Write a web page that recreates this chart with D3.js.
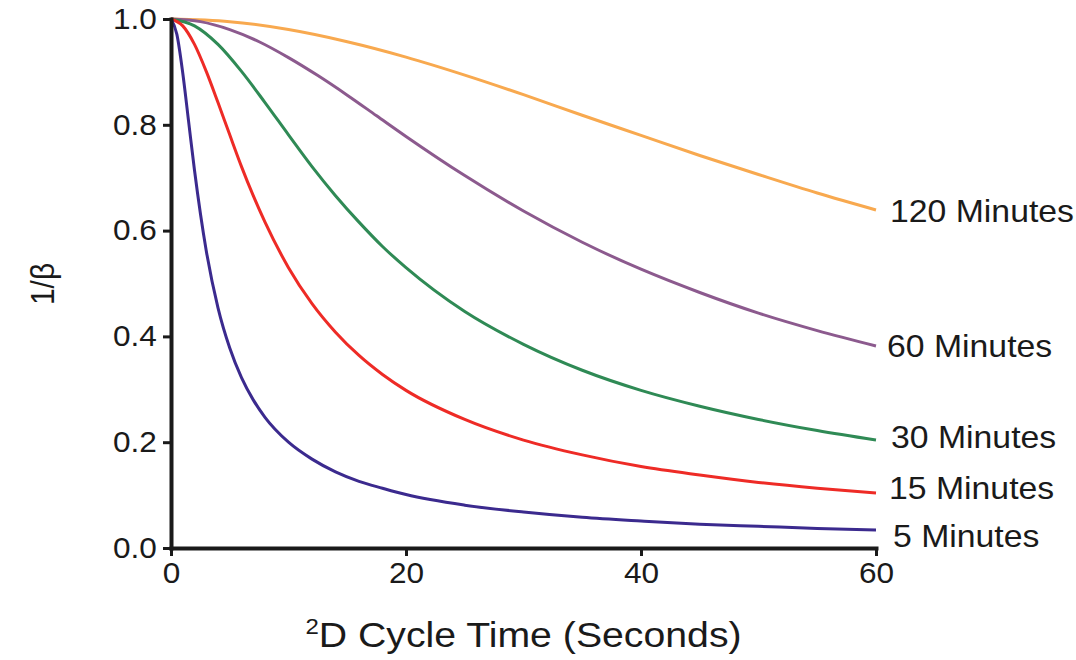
<!DOCTYPE html>
<html>
<head>
<meta charset="utf-8">
<script src="https://cdn.jsdelivr.net/npm/d3@7"></script>
<style>
  body { margin: 0; background: #fff; }
  text { font-family: "Liberation Sans", Arial, sans-serif; fill: #1a1a1a; }
</style>
</head>
<body>
<script>
// values
var names = ["120 Minutes", "60 Minutes", "30 Minutes", "15 Minutes", "5 Minutes"];
var colors = ["#f8a94f", "#8c5a8e", "#2f8a55", "#ee2b26", "#3b2a8e"];

var tOrange = [0, 5, 10, 15, 20, 25, 30, 35, 40, 45, 50, 55, 60];
var vOrange = [1, 0.995, 0.980, 0.957, 0.928, 0.894, 0.857, 0.818, 0.780, 0.742, 0.706, 0.671, 0.639];

var tPurple = [0, 2.5, 5, 7.5, 10, 12.5, 15, 17.5, 20, 25, 30, 35, 40, 45, 50, 55, 60];
var vPurple = [1, 0.995, 0.980, 0.957, 0.927, 0.893, 0.856, 0.817, 0.778, 0.704, 0.637, 0.578, 0.527, 0.483, 0.444, 0.411, 0.382];

var tGreen = [0, 2, 4, 6, 8, 10, 12, 14, 16, 18, 20, 25, 30, 35, 40, 45, 50, 55, 60];
var vGreen = [1, 0.987, 0.952, 0.901, 0.842, 0.781, 0.721, 0.666, 0.616, 0.570, 0.530, 0.447, 0.385, 0.336, 0.298, 0.268, 0.243, 0.222, 0.204];

var tRed = [0, 1, 2, 3, 4, 5, 6, 7, 8, 10, 12, 14, 16, 18, 20, 25, 30, 35, 40, 45, 50, 55, 60];
var vRed = [1, 0.987, 0.952, 0.901, 0.842, 0.781, 0.721, 0.666, 0.616, 0.530, 0.462, 0.408, 0.364, 0.328, 0.298, 0.243, 0.204, 0.176, 0.154, 0.138, 0.124, 0.113, 0.104];

var tBlue = [0, 0.5, 1, 1.5, 2, 3, 4, 5, 6, 7, 8, 10, 12, 14, 16, 18, 20, 25, 30, 35, 40, 45, 50, 55, 60];
var vBlue = [1, 0.971, 0.898, 0.806, 0.714, 0.562, 0.454, 0.378, 0.322, 0.280, 0.247, 0.200, 0.168, 0.144, 0.126, 0.113, 0.101, 0.081, 0.068, 0.058, 0.051, 0.045, 0.041, 0.037, 0.034];

var xTicks = [0, 20, 40, 60];
var yTicks = [0, 0.2, 0.4, 0.6, 0.8, 1.0];

var series = [
  { t: tOrange, v: vOrange },
  { t: tPurple, v: vPurple },
  { t: tGreen, v: vGreen },
  { t: tRed, v: vRed },
  { t: tBlue, v: vBlue }
];

var W = 1076, H = 660;
var stretch = 1.09; // the reference text is a bit wide
var x = d3.scaleLinear().domain([0, 60]).range([171, 876]);
var y = d3.scaleLinear().domain([0, 1]).range([548, 19]);

var svg = d3.select("body").append("svg")
    .attr("width", W)
    .attr("height", H);

var line = d3.line()
    .x(function(d) { return x(d[0]); })
    .y(function(d) { return y(d[1]); })
    .curve(d3.curveMonotoneX);

svg.selectAll("path.curve")
    .data(series)
    .enter()
    .append("path")
    .attr("class", "curve")
    .attr("fill", "none")
    .attr("stroke", function(d, i) { return colors[i]; })
    .attr("stroke-width", 3)
    .attr("d", function(d) { return line(d.t.map(function(t, k) { return [t, d.v[k]]; })); });

// end labels, nudged so they don't collide
var nudgeX = [14, 11, 15, 13, 17];
var nudgeY = [1, 0, -3, -5, 6];
svg.selectAll("text.lab")
    .data(series)
    .enter()
    .append("text")
    .attr("class", "lab")
    .attr("transform", function(d, i) {
      return "translate(" + (x(60) + nudgeX[i]) + "," + (y(d.v[d.v.length - 1]) + nudgeY[i]) + ") scale(" + stretch + ",1)";
    })
    .attr("dy", "0.36em")
    .style("font-size", "31px")
    .text(function(d, i) { return names[i]; });

var xAxis = svg.append("g")
    .attr("transform", "translate(0," + y(0) + ")")
    .call(d3.axisBottom(x).tickValues(xTicks).tickSize(8).tickSizeOuter(0).tickPadding(6).tickFormat(d3.format("d")));
var yAxis = svg.append("g")
    .attr("transform", "translate(" + x(0) + ",0)")
    .call(d3.axisLeft(y).tickValues(yTicks).tickSize(8).tickSizeOuter(0).tickPadding(5).tickFormat(d3.format(".1f")));

[xAxis, yAxis].forEach(function(g) {
  g.select(".domain").attr("stroke", "#1a1a1a").attr("stroke-width", 4).attr("stroke-linecap", "square");
  g.selectAll(".tick line").attr("stroke", "#1a1a1a").attr("stroke-width", 3);
  g.selectAll(".tick text").style("font-size", "29px").attr("fill", "#1a1a1a")
      .style("font-family", "'Liberation Sans', Arial, sans-serif")
      .attr("transform", "scale(" + stretch + ",1)");
});

var xt = svg.append("text")
    .attr("transform", "translate(" + (x(0) + x(60)) / 2 + ",647) scale(" + stretch + ",1)")
    .attr("text-anchor", "middle")
    .style("font-size", "36px");
xt.append("tspan").attr("dy", "-13").style("font-size", "22px").text("2");
xt.append("tspan").attr("dy", "13").text("D Cycle Time (Seconds)");

svg.append("text")
    .attr("transform", "translate(54,284) rotate(-90) scale(1,1.09)")
    .attr("text-anchor", "middle")
    .style("font-size", "30px")
    .text("1/β");
</script>
</body>
</html>
